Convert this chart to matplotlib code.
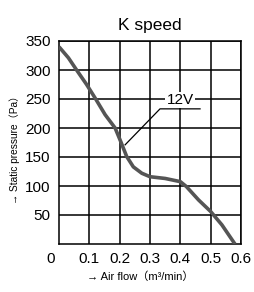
import numpy as np
import matplotlib.pyplot as plt

plt.rcParams['font.family'] = ['Liberation Sans', 'Noto Sans CJK JP', 'DejaVu Sans']

# curve
flow = [0.0, 0.031, 0.058, 0.091, 0.121, 0.152, 0.185, 0.204, 0.223, 0.245, 0.273, 0.3, 0.35, 0.4, 0.42, 0.46, 0.5, 0.537, 0.58]
pressure = [340, 321, 300, 275, 250, 223, 200, 176, 151, 133, 122, 116, 113, 107.5, 99, 76, 56, 33, 0]
xticks = [0.1, 0.2, 0.3, 0.4, 0.5, 0.6]
yticks = [50, 100, 150, 200, 250, 300, 350]

fig = plt.figure(figsize=(2.54, 2.92), dpi=100)
ax = fig.add_axes([59/254, 1-244/292, 182/254, 203/292])

ax.plot(flow, pressure, color='#555555', lw=2.6, solid_capstyle='butt',
        solid_joinstyle='round', zorder=4)

ax.set_xlim(0, 0.6)
ax.set_ylim(0, 350)
ax.set_xticks(xticks)
ax.set_yticks(yticks)
ax.set_xticklabels([f'{v:.1f}' for v in xticks], fontsize=11)
ax.set_yticklabels([str(v) for v in yticks], fontsize=11)
ax.tick_params(length=0, pad=6)
ax.grid(True, color='black', lw=1.1)
for s in ax.spines.values():
    s.set_linewidth(1.1)
ax.text(-0.015, -13, '0', fontsize=11, ha='right', va='top')

ax.set_title('K speed', fontsize=12.5, pad=8)
fig.text(140/254, 1-277/292, '→ Air flow（m³/min）', fontsize=8, ha='center', va='center')
fig.text(15/254, 1-147/292, '→ Static pressure（Pa）', fontsize=7.3, ha='center', va='center',
         rotation=90)

# 12V label with leader line
ax.plot([0.465, 0.333, 0.218], [233, 233, 171], color='black', lw=0.9, zorder=5)
ax.text(0.399, 236, '12V', fontsize=11, ha='center', va='bottom', zorder=5,
        bbox=dict(facecolor='white', edgecolor='none', pad=1))

fig.savefig('out.png', dpi=100)
